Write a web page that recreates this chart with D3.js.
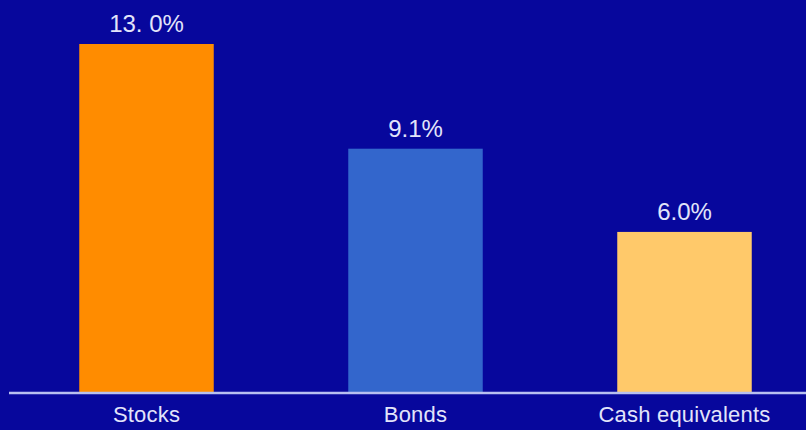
<!DOCTYPE html>
<html><head><meta charset="utf-8">
<script src="https://cdn.jsdelivr.net/npm/d3@7/dist/d3.min.js"></script>
<style>html,body{margin:0;padding:0;background:#07079c;}svg{display:block;}</style>
</head><body>
<svg id="c" width="806" height="430"></svg>
<script>
const categories = ["Stocks", "Bonds", "Cash equivalents"];
const values = [13.0, 9.1, 6.0];
const valueLabels = ["13. 0%", "9.1%", "6.0%"];
const colors = ["#ff8c00", "#3366cc", "#ffc96a"];

const svg = d3.select("#c");
const W = 806, H = 430, baseY = 393;
svg.append("rect").attr("width", W).attr("height", H).attr("fill", "#07079c");

const x = d3.scaleBand().domain(categories).range([12, 819]).paddingInner(0.5).paddingOuter(0.25);
const y = d3.scaleLinear().domain([0, 13]).range([baseY, 44]);

svg.selectAll("rect.bar").data(values).enter().append("rect")
  .attr("class", "bar")
  .attr("x", (d, i) => x(categories[i]))
  .attr("width", x.bandwidth())
  .attr("y", d => y(d))
  .attr("height", d => baseY - y(d))
  .attr("fill", (d, i) => colors[i]);

svg.selectAll("text.val").data(values).enter().append("text")
  .attr("class", "val")
  .attr("x", (d, i) => x(categories[i]) + x.bandwidth() / 2)
  .attr("y", d => y(d) - 12)
  .attr("text-anchor", "middle")
  .attr("font-family", "Liberation Sans, Arial, sans-serif")
  .attr("font-size", 24)
  .attr("fill", "#e2e4fa")
  .text((d, i) => valueLabels[i]);

const xAxis = d3.axisBottom(x).tickSize(0).tickPadding(13.5);
const g = svg.append("g").attr("transform", `translate(0,${baseY})`).call(xAxis);
g.select(".domain").remove();
g.append("line").attr("x1", 9).attr("x2", 806).attr("y1", 0).attr("y2", 0)
  .attr("stroke", "#b8c0f0").attr("stroke-width", 2.5);
g.selectAll(".tick text")
  .attr("font-family", "Liberation Sans, Arial, sans-serif")
  .attr("font-size", 22)
  .attr("letter-spacing", 0.2)
  .attr("fill", "#e2e4fa");
</script>
</body></html>
